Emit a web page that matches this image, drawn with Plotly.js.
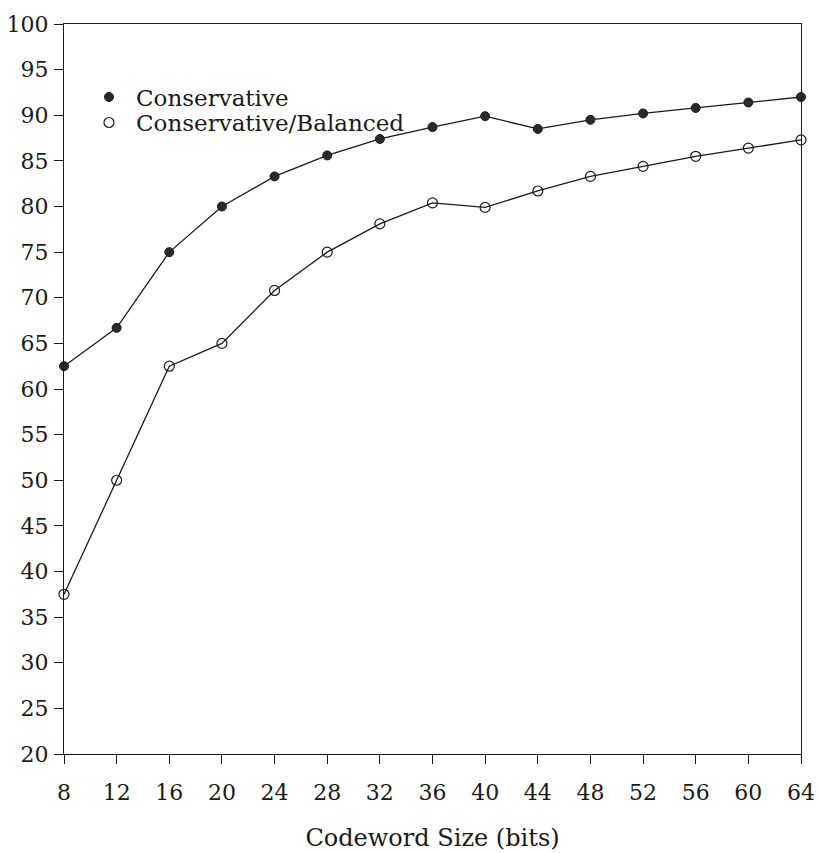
<!DOCTYPE html>
<html>
<head>
<meta charset="utf-8">
<script src="https://cdn.plot.ly/plotly-3.0.1.min.js"></script>
<style>html,body{margin:0;padding:0;background:#fff;}</style>
</head>
<body>
<div id="chart" style="width:818px;height:853px;"></div>
<script>
const codewordSize = [8, 12, 16, 20, 24, 28, 32, 36, 40, 44, 48, 52, 56, 60, 64];
const conservative = [62.5, 66.7, 75.0, 80.0, 83.3, 85.6, 87.4, 88.7, 89.9, 88.5, 89.5, 90.2, 90.8, 91.4, 92.0];
const conservativeBalanced = [37.5, 50.0, 62.5, 65.0, 70.8, 75.0, 78.1, 80.4, 79.9, 81.7, 83.3, 84.4, 85.5, 86.4, 87.3];
const seriesNames = ["Conservative", "Conservative/Balanced"];
const xTicks = [8, 12, 16, 20, 24, 28, 32, 36, 40, 44, 48, 52, 56, 60, 64];
const yTicks = [20, 25, 30, 35, 40, 45, 50, 55, 60, 65, 70, 75, 80, 85, 90, 95, 100];

const FONT = "DejaVu Serif, Liberation Serif, serif";
const INK = "#1a1a1a";

const traces = [
  {x: codewordSize, y: conservative, mode: "lines", line: {color: INK, width: 1.3}, showlegend: false, cliponaxis: false, hoverinfo: "skip"},
  {x: codewordSize, y: conservativeBalanced, mode: "lines", line: {color: INK, width: 1.3}, showlegend: false, cliponaxis: false, hoverinfo: "skip"},
  {x: codewordSize, y: conservative, mode: "markers", name: seriesNames[0], cliponaxis: false, legend: "legend",
   marker: {symbol: "circle", size: 9, color: "#2a2a2a", line: {color: INK, width: 1}}},
  {x: codewordSize, y: conservativeBalanced, mode: "markers", name: seriesNames[1], cliponaxis: false, legend: "legend2",
   marker: {symbol: "circle-open", size: 10, color: INK, line: {color: INK, width: 1.2}}}
];

const legendCommon = {
  xanchor: "left", yanchor: "middle", bgcolor: "rgba(0,0,0,0)", borderwidth: 0,
  font: {family: FONT, size: 23, color: INK}, itemwidth: 44
};

const layout = {
  width: 818, height: 853,
  margin: {l: 64, r: 17, t: 24, b: 99},
  paper_bgcolor: "#fff", plot_bgcolor: "#fff",
  font: {family: FONT, size: 22, color: INK},
  showlegend: true,
  legend: Object.assign({x: 0.0244, y: 0.900}, legendCommon),
  legend2: Object.assign({x: 0.0244, y: 0.865}, legendCommon),
  xaxis: {
    range: [8, 64], tickvals: xTicks, ticktext: xTicks.map(String),
    ticks: "outside", ticklen: 9, tickwidth: 1, tickcolor: INK,
    showline: true, linecolor: INK, linewidth: 1, mirror: true,
    showgrid: false, zeroline: false, ticklabelstandoff: 10,
    tickfont: {family: FONT, size: 22, color: INK},
    title: {text: "Codeword Size (bits)", font: {family: FONT, size: 24, color: INK}, standoff: 24}
  },
  xaxis2: {
    range: [8, 64], tickvals: xTicks, overlaying: "x", side: "top", anchor: "y",
    ticks: "inside", ticklen: 10, tickwidth: 1, tickcolor: INK,
    showticklabels: false, showgrid: false, zeroline: false, showline: false
  },
  yaxis: {
    range: [20, 100], tickvals: yTicks, ticktext: yTicks.map(String),
    ticks: "outside", ticklen: 9, tickwidth: 1, tickcolor: INK,
    showline: true, linecolor: INK, linewidth: 1, mirror: true,
    showgrid: false, zeroline: false, ticklabelstandoff: 1,
    tickfont: {family: FONT, size: 22, color: INK}
  },
  yaxis2: {
    range: [20, 100], tickvals: yTicks, overlaying: "y", side: "right", anchor: "x",
    ticks: "inside", ticklen: 10, tickwidth: 1, tickcolor: INK,
    showticklabels: false, showgrid: false, zeroline: false, showline: false
  }
};

Plotly.newPlot("chart", traces, layout, {displayModeBar: false, staticPlot: true});
</script>
</body>
</html>
